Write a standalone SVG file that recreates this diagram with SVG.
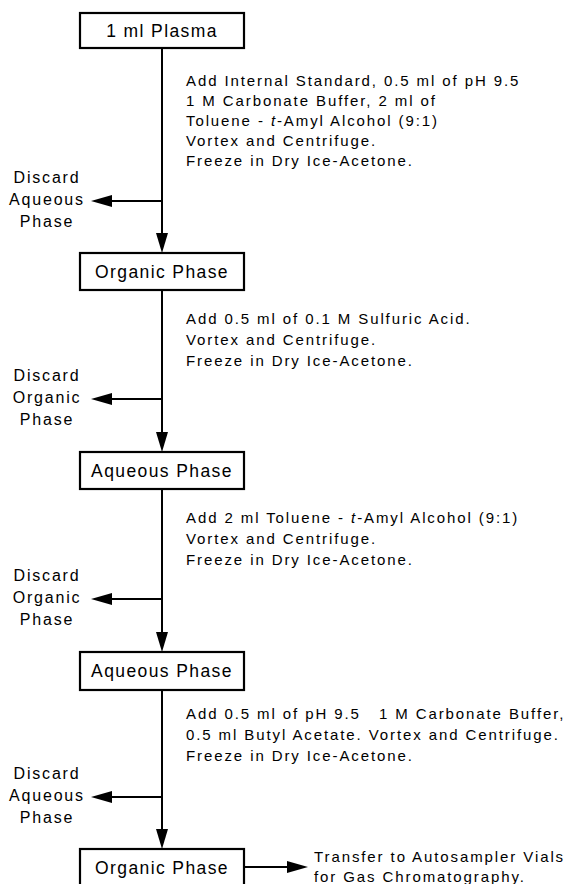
<svg xmlns="http://www.w3.org/2000/svg" width="576" height="884" viewBox="0 0 576 884">
<style>
  .box { fill: #fff; stroke: #000; stroke-width: 2.2; }
  .bt { font-family: "Liberation Sans", Arial, sans-serif; font-size: 17.5px; letter-spacing: 1.4px; text-anchor: middle; fill: #000; }
  .t { font-family: "Liberation Sans", Arial, sans-serif; font-size: 15px; letter-spacing: 1.9px; fill: #000; }
  .d { font-family: "Liberation Sans", Arial, sans-serif; font-size: 16px; letter-spacing: 1.8px; text-anchor: middle; fill: #000; }
  .ln { stroke: #000; stroke-width: 2; fill: none; }
  .ah { fill: #000; }
</style>
<rect width="576" height="884" fill="#fff"/>
<g id="connectors">
  <line class="ln" x1="162" y1="48" x2="162" y2="236"/>
  <polygon class="ah" points="156,233 168,233 162,253"/>
  <line class="ln" x1="162" y1="201" x2="110" y2="201"/>
  <polygon class="ah" points="112,195 112,207 91,201"/>

  <line class="ln" x1="162" y1="290" x2="162" y2="435"/>
  <polygon class="ah" points="156,432 168,432 162,452"/>
  <line class="ln" x1="162" y1="399" x2="110" y2="399"/>
  <polygon class="ah" points="112,393 112,405 91,399"/>

  <line class="ln" x1="162" y1="489" x2="162" y2="635"/>
  <polygon class="ah" points="156,632 168,632 162,652"/>
  <line class="ln" x1="162" y1="599" x2="110" y2="599"/>
  <polygon class="ah" points="112,593 112,605 91,599"/>

  <line class="ln" x1="162" y1="690" x2="162" y2="832"/>
  <polygon class="ah" points="156,829 168,829 162,849"/>
  <line class="ln" x1="162" y1="797" x2="110" y2="797"/>
  <polygon class="ah" points="112,791 112,803 91,797"/>

  <line class="ln" x1="244" y1="867" x2="290" y2="867"/>
  <polygon class="ah" points="287,861 287,873 308,867"/>
</g>
<g id="n1">
  <rect class="box" x="80" y="13" width="164" height="35"/>
  <text class="bt" x="162" y="37">1 ml Plasma</text>
</g>
<g id="s1">
  <text class="t" x="186" y="86">Add Internal Standard, 0.5 ml of pH 9.5</text>
  <text class="t" x="186" y="106">1 M Carbonate Buffer, 2 ml of</text>
  <text class="t" x="186" y="126">Toluene - <tspan font-style="italic">t</tspan>-Amyl Alcohol (9:1)</text>
  <text class="t" x="186" y="146">Vortex and Centrifuge.</text>
  <text class="t" x="186" y="166">Freeze in Dry Ice-Acetone.</text>
</g>
<g id="w1">
  <text class="d" x="47" y="183">Discard</text>
  <text class="d" x="47" y="205">Aqueous</text>
  <text class="d" x="47" y="227">Phase</text>
</g>
<g id="n2">
  <rect class="box" x="80" y="253" width="164" height="37"/>
  <text class="bt" x="162" y="278">Organic Phase</text>
</g>
<g id="s2">
  <text class="t" x="186" y="324">Add 0.5 ml of 0.1 M Sulfuric Acid.</text>
  <text class="t" x="186" y="345">Vortex and Centrifuge.</text>
  <text class="t" x="186" y="366">Freeze in Dry Ice-Acetone.</text>
</g>
<g id="w2">
  <text class="d" x="47" y="381">Discard</text>
  <text class="d" x="47" y="403">Organic</text>
  <text class="d" x="47" y="425">Phase</text>
</g>
<g id="n3">
  <rect class="box" x="80" y="452" width="164" height="37"/>
  <text class="bt" x="162" y="477">Aqueous Phase</text>
</g>
<g id="s3">
  <text class="t" x="186" y="523">Add 2 ml Toluene - <tspan font-style="italic">t</tspan>-Amyl Alcohol (9:1)</text>
  <text class="t" x="186" y="544">Vortex and Centrifuge.</text>
  <text class="t" x="186" y="565">Freeze in Dry Ice-Acetone.</text>
</g>
<g id="w3">
  <text class="d" x="47" y="581">Discard</text>
  <text class="d" x="47" y="603">Organic</text>
  <text class="d" x="47" y="625">Phase</text>
</g>
<g id="n4">
  <rect class="box" x="80" y="652" width="164" height="38"/>
  <text class="bt" x="162" y="677">Aqueous Phase</text>
</g>
<g id="s4">
  <text class="t" x="186" y="719" xml:space="preserve">Add 0.5 ml of pH 9.5   1 M Carbonate Buffer,</text>
  <text class="t" x="186" y="740">0.5 ml Butyl Acetate. Vortex and Centrifuge.</text>
  <text class="t" x="186" y="761">Freeze in Dry Ice-Acetone.</text>
</g>
<g id="w4">
  <text class="d" x="47" y="779">Discard</text>
  <text class="d" x="47" y="801">Aqueous</text>
  <text class="d" x="47" y="823">Phase</text>
</g>
<g id="n5">
  <rect class="box" x="80" y="849" width="164" height="40"/>
  <text class="bt" x="162" y="874">Organic Phase</text>
</g>
<g id="out">
  <text class="t" x="314" y="862">Transfer to Autosampler Vials</text>
  <text class="t" x="314" y="882">for Gas Chromatography.</text>
</g>
</svg>
